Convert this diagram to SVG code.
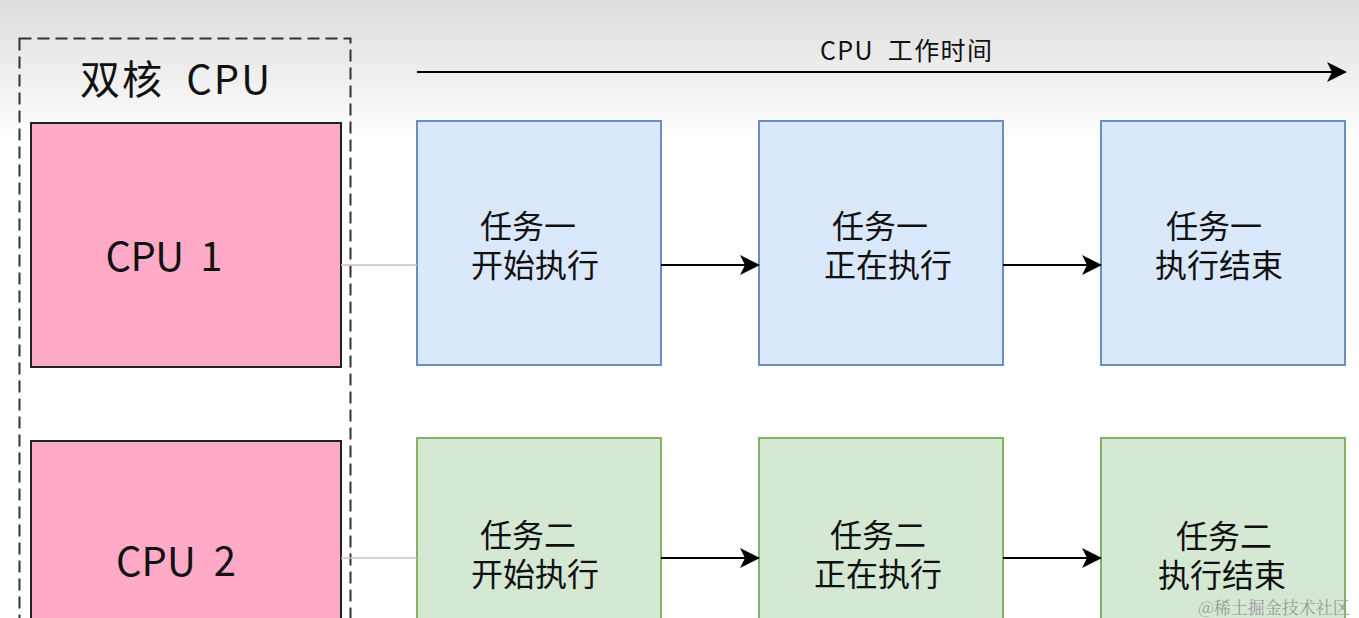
<svg xmlns="http://www.w3.org/2000/svg" width="1359" height="618" viewBox="0 0 1359 618">
<defs>
<linearGradient id="bg" x1="0" y1="0" x2="0" y2="1">
<stop offset="0" stop-color="#dcdcdc"/>
<stop offset="1" stop-color="#ffffff"/>
</linearGradient>
<marker id="ah2" viewBox="0 0 10 10" refX="9" refY="5" markerWidth="20" markerHeight="20" markerUnits="userSpaceOnUse" orient="auto">
<path d="M0,0 L10,5 L0,10 L2.5,5 Z" fill="#000"/>
</marker>
</defs>
<style>
text{font-family:"Noto Sans CJK SC","Liberation Sans",sans-serif;fill:#111;text-anchor:middle}
.cpu{fill:#ffabc8;stroke:#222;stroke-width:2}
.blue{fill:#dae8fc;stroke:#6c8ebf;stroke-width:2}
.green{fill:#d5e8d4;stroke:#82b366;stroke-width:2}
.t{font-size:32px}
.c{font-size:40px}
.link{stroke:#cfbdc2;stroke-width:1.5;fill:none}
.arr{stroke:#000;stroke-width:2;fill:none;marker-end:url(#ah2)}
</style>
<rect x="0" y="0" width="1359" height="140" fill="url(#bg)"/>
<rect x="0" y="140" width="1359" height="478" fill="#fff"/>
<g id="dual-core">
<rect x="19.5" y="38.5" width="331" height="620" fill="none" stroke="#333" stroke-width="2" stroke-dasharray="12,6"/>
<text x="175" y="94" font-size="40" textLength="190" lengthAdjust="spacing" xml:space="preserve">双核  CPU</text>
</g>
<g id="cpu1">
<rect class="cpu" x="31" y="123" width="310" height="244"/>
<text class="c" x="164" y="271" textLength="117" lengthAdjust="spacing" xml:space="preserve">CPU  1</text>
</g>
<g id="cpu2">
<rect class="cpu" x="31" y="441" width="310" height="220"/>
<text class="c" x="176" y="576" textLength="120" lengthAdjust="spacing" xml:space="preserve">CPU  2</text>
</g>
<g id="timeline">
<text x="906" y="60" font-size="25" textLength="172" lengthAdjust="spacing" xml:space="preserve">CPU  工作时间</text>
</g>
<g id="t1a"><rect class="blue" x="417" y="121" width="244" height="244"/><text class="t"><tspan x="528" y="238">任务一</tspan><tspan x="535" y="277">开始执行</tspan></text></g>
<g id="t1b"><rect class="blue" x="759" y="121" width="244" height="244"/><text class="t"><tspan x="880" y="238">任务一</tspan><tspan x="888" y="277">正在执行</tspan></text></g>
<g id="t1c"><rect class="blue" x="1101" y="121" width="244" height="244"/><text class="t"><tspan x="1214" y="238">任务一</tspan><tspan x="1219" y="277">执行结束</tspan></text></g>
<g id="t2a"><rect class="green" x="417" y="438" width="244" height="220"/><text class="t"><tspan x="528" y="547">任务二</tspan><tspan x="535" y="586">开始执行</tspan></text></g>
<g id="t2b"><rect class="green" x="759" y="438" width="244" height="220"/><text class="t"><tspan x="878" y="547">任务二</tspan><tspan x="878" y="586">正在执行</tspan></text></g>
<g id="t2c"><rect class="green" x="1101" y="438" width="244" height="220"/><text class="t"><tspan x="1224" y="548">任务二</tspan><tspan x="1222" y="587">执行结束</tspan></text></g>
<g id="connectors">
<line class="arr" x1="417" y1="72" x2="1345" y2="72"/>
<line class="link" x1="341" y1="265" x2="417" y2="265"/>
<line class="link" x1="341" y1="558" x2="417" y2="558"/>
<line class="arr" x1="661" y1="265" x2="758" y2="265"/>
<line class="arr" x1="1003" y1="265" x2="1100" y2="265"/>
<line class="arr" x1="661" y1="558" x2="758" y2="558"/>
<line class="arr" x1="1003" y1="558" x2="1100" y2="558"/>
</g>
<text x="1274" y="614" font-size="17" style="font-family:'Noto Serif CJK SC','Noto Sans CJK SC',serif;fill:#9a9a9a">@稀土掘金技术社区</text>
</svg>
